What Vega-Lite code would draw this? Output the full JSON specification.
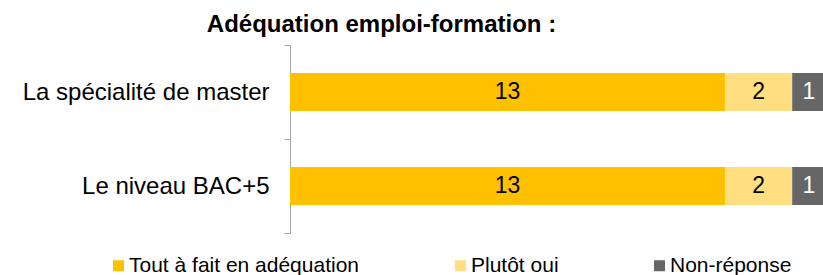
{
  "$schema": "https://vega.github.io/schema/vega-lite/v6.json",
  "autosize": {"type": "none"},
  "width": 533,
  "height": 188,
  "padding": {"left": 290, "top": 45, "right": 0, "bottom": 42},
  "background": "white",
  "config": {"view": {"stroke": null}},
  "title": {
    "text": "Adéquation emploi-formation :",
    "anchor": "middle",
    "frame": "group",
    "dx": -175,
    "dy": 36,
    "offset": 13,
    "baseline": "alphabetic",
    "font": "Liberation Sans",
    "fontSize": 24,
    "fontWeight": "bold",
    "color": "black"
  },
  "data": {
    "values": [
      {"item": "La spécialité de master", "cat": "Tout à fait en adéquation", "ord": 1, "value": 13},
      {"item": "La spécialité de master", "cat": "Plutôt oui", "ord": 2, "value": 2},
      {"item": "La spécialité de master", "cat": "Non-réponse", "ord": 3, "value": 1},
      {"item": "Le niveau BAC+5", "cat": "Tout à fait en adéquation", "ord": 1, "value": 13},
      {"item": "Le niveau BAC+5", "cat": "Plutôt oui", "ord": 2, "value": 2},
      {"item": "Le niveau BAC+5", "cat": "Non-réponse", "ord": 3, "value": 1}
    ]
  },
  "transform": [
    {"stack": "value", "groupby": ["item"], "sort": [{"field": "ord", "order": "ascending"}], "as": ["x0", "x1"]},
    {"calculate": "(datum.x0 + datum.x1) / 2", "as": "xmid"}
  ],
  "encoding": {
    "y": {
      "field": "item",
      "type": "nominal",
      "sort": ["La spécialité de master", "Le niveau BAC+5"],
      "scale": {"paddingInner": 0, "paddingOuter": 0},
      "axis": {
        "title": null,
        "domainColor": "#A6A6A6",
        "tickColor": "#A6A6A6",
        "tickBand": "extent",
        "tickSize": 6,
        "labelPadding": 15,
        "labelLimit": 0,
        "labelFont": "Liberation Sans",
        "labelFontSize": 24,
        "labelColor": "black",
        "grid": false
      }
    }
  },
  "layer": [
    {
      "mark": {"type": "bar", "size": 38},
      "encoding": {
        "x": {"field": "x0", "type": "quantitative", "scale": {"domain": [0, 15.92], "nice": false, "zero": true}, "axis": null},
        "x2": {"field": "x1"},
        "color": {
          "field": "cat",
          "type": "nominal",
          "scale": {
            "domain": ["Tout à fait en adéquation", "Plutôt oui", "Non-réponse"],
            "range": ["#FFC000", "#FFDF80", "#666666"]
          },
          "legend": {
            "title": null,
            "orient": "none",
            "direction": "horizontal",
            "legendX": -182,
            "legendY": 210,
            "symbolType": "square",
            "symbolSize": 121,
            "symbolStrokeWidth": 0,
            "labelFont": "Liberation Sans",
            "labelFontSize": 21,
            "labelLimit": 0,
            "labelColor": "black",
            "labelOffset": 0,
            "columnPadding": 90
          }
        }
      }
    },
    {
      "mark": {"type": "text", "font": "Liberation Sans", "fontSize": 23, "align": "center", "baseline": "middle"},
      "encoding": {
        "x": {"field": "xmid", "type": "quantitative"},
        "text": {"field": "value", "type": "quantitative"},
        "color": {
          "condition": {"test": "datum.cat === 'Non-réponse'", "value": "white"},
          "value": "black"
        }
      }
    }
  ]
}
